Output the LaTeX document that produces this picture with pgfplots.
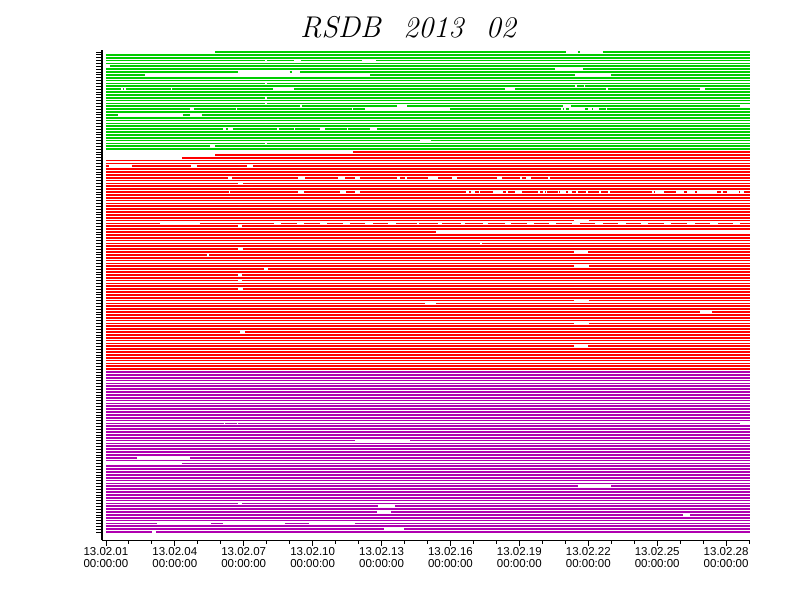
\documentclass[border=0pt]{standalone}
\usepackage{fontspec}
\usepackage{pgfplots}
\usepackage{pgfplotstable}
\pgfplotsset{compat=1.18}
\newfontfamily\lab{Liberation Sans}
\definecolor{gr}{RGB}{0,204,0}
\definecolor{rd}{RGB}{255,0,0}
\definecolor{pu}{RGB}{176,0,176}

% segments: row k, start day s, end day e
\pgfplotstableread{
k s e
1 5.75 21.03
1 21.55 21.64
1 22.64 29.04
2 1 29.04
3 1 29.04
4 1 7.92
4 8.00 9.19
4 9.49 12.15
4 12.76 29.04
5 1 29.04
6 1.17 29.04
7 1 20.55
7 21.77 29.04
8 1 6.75
8 9.00 9.08
8 9.45 29.04
9 1 2.70
9 12.50 21.40
9 23.00 29.04
10 1 29.04
11 1 29.04
12 1 7.92
12 8.00 29.04
13 1 21.43
13 21.50 21.80
13 21.87 29.04
14 1 1.65
14 1.74 1.78
14 1.87 3.83
14 3.87 8.27
14 9.19 18.38
14 18.81 22.75
14 22.85 26.87
14 27.09 29.04
15 1 29.04
16 1 29.04
17 1 7.92
17 8.00 29.04
18 1 29.04
19 1 7.92
19 8.00 29.04
20 1 9.47
20 9.52 13.67
20 14.11 20.90
20 21.25 28.61
21 1 4.66
21 4.83 6.66
21 6.70 11.70
21 11.75 12.28
21 15.98 20.82
21 20.90 20.94
21 21.03 21.16
21 21.86 21.99
21 22.17 22.21
21 22.47 22.77
21 22.82 29.04
22 1 29.04
23 1 1.52
23 4.35 4.66
23 5.18 29.04
24 1 29.04
25 1 29.04
26 1 29.04
27 1 29.04
28 1 6.09
28 6.22 6.31
28 6.53 8.47
28 8.52 9.20
28 9.25 10.32
28 10.54 11.48
28 11.52 12.50
28 12.80 29.04
29 1 29.04
30 1 29.04
31 1 29.04
32 1 14.67
32 15.15 29.04
33 1 7.92
33 8.00 29.04
34 1 5.53
34 5.75 29.04
35 1 29.04
}\greentab

\pgfplotstableread{
k s e
36 11.75 29.04
37 5.75 29.04
38 4.31 29.04
39 1 29.04
40 1 29.04
41 1 1.13
41 2.13 4.70
41 4.96 7.14
41 7.40 29.04
42 1 29.04
43 1 29.04
44 1 29.04
45 1 6.31
45 6.49 9.36
45 9.67 11.10
45 11.41 11.84
45 12.06 13.67
45 13.80 14.02
45 14.11 15.02
45 15.46 16.07
45 16.28 18.03
45 18.24 19.03
45 19.12 19.29
45 19.51 20.25
45 20.33 29.04
46 1 29.04
47 1 6.75
47 6.97 29.04
48 1 29.04
49 1 29.04
50 1 6.36
50 6.40 9.36
50 9.62 11.19
50 11.45 11.84
50 12.06 16.68
50 16.81 16.89
50 17.07 17.24
50 17.29 17.85
50 18.29 18.42
50 18.51 18.81
50 19.12 19.81
50 19.90 20.03
50 20.12 20.16
50 20.20 20.68
50 20.73 20.77
50 21.03 21.12
50 21.29 21.47
50 21.55 21.90
50 21.99 22.47
50 22.56 22.86
50 22.95 24.78
50 24.86 24.91
50 25.30 25.82
50 26.17 26.30
50 26.65 26.74
50 27.61 27.78
50 27.87 28.04
50 28.57 28.61
50 28.78 29.04
51 1 29.04
52 1 29.04
53 1 29.04
54 1 29.04
55 1 29.04
56 1 29.04
57 1 29.04
58 1 29.04
59 1 29.04
60 1 21.38
60 22.03 29.04
61 1 3.35
61 5.09 8.30
61 8.63 9.30
61 9.63 10.30
61 10.63 11.30
61 11.63 12.30
61 12.63 13.30
61 13.63 14.54
61 14.63 15.46
61 15.63 16.46
61 16.63 17.42
61 17.63 18.38
61 18.64 19.33
61 19.64 20.29
61 20.60 21.29
61 21.64 22.29
61 22.64 23.30
61 23.64 24.30
61 24.60 25.30
61 25.60 26.30
61 26.65 27.30
61 27.65 28.30
61 28.61 29.04
62 1 6.75
62 6.92 29.04
63 1 29.04
64 1 15.37
65 1 29.04
66 1 29.04
67 1 29.04
68 1 17.29
68 17.37 29.04
69 1 29.04
70 1 6.75
70 6.97 29.04
71 1 21.38
71 22.00 29.04
72 1 5.40
72 5.48 29.04
73 1 29.04
74 1 29.04
75 1 29.04
76 1 21.38
76 22.03 29.04
77 1 7.90
77 8.05 29.04
78 1 29.04
79 1 6.75
79 6.92 29.04
80 1 29.04
81 1 6.75
81 6.92 29.04
82 1 29.04
83 1 29.04
84 1 6.75
84 6.97 29.04
85 1 29.04
86 1 29.04
87 1 29.04
88 1 21.38
88 22.03 29.04
89 1 14.89
89 15.37 29.04
90 1 29.04
91 1 29.04
92 1 26.87
92 27.39 29.04
93 1 29.04
94 1 29.04
95 1 29.04
96 1 21.38
96 22.03 29.04
97 1 29.04
98 1 29.04
99 1 6.84
99 7.05 29.04
100 1 29.04
101 1 29.04
102 1 29.04
103 1 29.04
104 1 21.38
104 22.00 29.04
105 1 29.04
106 1 29.04
107 1 29.04
108 1 29.04
109 1 29.04
110 1 29.04
111 1 29.04
112 1 29.04
}\redtab

\pgfplotstableread{
k s e
113 1 29.04
114 1 29.04
115 1 29.04
116 1 29.04
117 1 29.04
118 1 29.04
119 1 29.04
120 1 29.04
121 1 29.04
122 1 29.04
123 1 29.04
124 1 29.04
125 1 29.04
126 1 29.04
127 1 29.04
128 1 29.04
129 1 29.04
130 1 29.04
131 1 6.14
131 6.18 6.70
131 6.75 28.61
132 1 29.04
133 1 29.04
134 1 29.04
135 1 29.04
136 1 29.04
137 1 11.84
137 14.24 29.04
138 1 29.04
139 1 29.04
140 1 29.04
141 1 29.04
142 1 29.04
143 1 2.35
143 4.66 29.04
144 1 29.04
145 4.31 29.04
146 1 29.04
147 1 29.04
148 1 29.04
149 1 29.04
150 1 29.04
151 1 29.04
152 1 29.04
153 1 21.55
153 23.00 29.04
154 1 29.04
155 1 29.04
156 1 29.04
157 1 29.04
158 1 29.04
159 1 6.75
159 6.92 29.04
160 1 12.84
160 13.58 29.04
161 1 29.04
162 1 12.80
162 13.40 29.04
163 1 26.13
163 26.43 29.04
164 1 29.04
165 1 29.04
166 1 3.22
166 5.57 6.09
166 8.79 9.84
166 11.84 29.04
167 1 29.04
168 1 13.11
168 13.98 29.04
169 1 3.00
169 3.18 29.04
}\purpletab

\begin{document}
\begin{tikzpicture}
\useasboundingbox (0,0) rectangle (792pt,612pt);
\node at (408pt,585pt) {\fontsize{30}{32}\selectfont\itshape RSDB\hspace{0.75em}2013\hspace{0.75em}02};
\begin{axis}[
  at={(102pt,72pt)}, anchor=south west,
  scale only axis, width=648pt, height=490pt,
  xmin=0.83, xmax=29.04, ymin=-171.8, ymax=-0.3,
  axis lines*=left,
  tick align=outside,
  xtick={1,4,...,28},
  minor xtick={1,...,29},
  xticklabels={13.02.01\\00:00:00,13.02.04\\00:00:00,13.02.07\\00:00:00,13.02.10\\00:00:00,13.02.13\\00:00:00,13.02.16\\00:00:00,13.02.19\\00:00:00,13.02.22\\00:00:00,13.02.25\\00:00:00,13.02.28\\00:00:00},
  xticklabel style={font=\lab\fontsize{11.5}{12}\selectfont, align=center, inner sep=1pt},
  ytick={-169,...,-1},
  yticklabels={},
  major tick length=6pt,
  minor tick length=4pt,
  xtick style={black, line width=0.8pt},
  minor tick style={black, line width=0.8pt},
  ytick style={black, line width=0.7pt},
  x axis line style={black, line width=0.8pt},
  y axis line style={black, line width=2.5pt},
  clip=false,
]
\addplot[draw=none, no markers, error bars/.cd, x dir=plus, x explicit, error mark=none,
  error bar style={line width=1.65pt, draw=gr, solid}]
  table[x=s, y expr=-\thisrow{k}, x error expr=\thisrow{e}-\thisrow{s}] {\greentab};
\addplot[draw=none, no markers, error bars/.cd, x dir=plus, x explicit, error mark=none,
  error bar style={line width=1.65pt, draw=rd, solid}]
  table[x=s, y expr=-\thisrow{k}, x error expr=\thisrow{e}-\thisrow{s}] {\redtab};
\addplot[draw=none, no markers, error bars/.cd, x dir=plus, x explicit, error mark=none,
  error bar style={line width=1.65pt, draw=pu, solid}]
  table[x=s, y expr=-\thisrow{k}, x error expr=\thisrow{e}-\thisrow{s}] {\purpletab};
\end{axis}
\end{tikzpicture}
\end{document}
